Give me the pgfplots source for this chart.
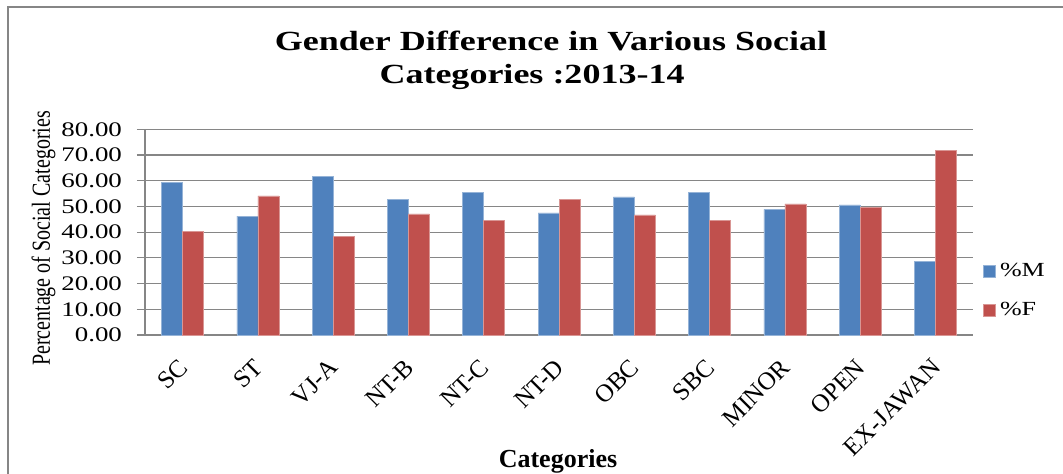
\documentclass[border=0pt]{standalone}
\usepackage{fontspec}
\setmainfont{Liberation Serif}
\usepackage{graphicx}
\usepackage{pgfplots}
\pgfplotsset{compat=1.18}
\definecolor{cM}{HTML}{4F81BD}
\definecolor{cF}{HTML}{C0504D}
\definecolor{gridc}{HTML}{868686}
\newcommand\sx[1]{\scalebox{1.3}[1]{#1}}
\begin{document}
\begin{tikzpicture}
\useasboundingbox (0,0) rectangle (531.5pt,-236.5pt);
\draw[color=gridc, line width=1pt] (4pt,-250pt) -- (4pt,-3.5pt) -- (540pt,-3.5pt);
\node[anchor=base, inner sep=0pt, font=\fontsize{13.85}{16}\selectfont\bfseries] at (275.5pt,-25pt) {\sx{Gender Difference in Various Social}};
\node[anchor=base, inner sep=0pt, font=\fontsize{13.85}{16}\selectfont\bfseries] at (266pt,-41.5pt) {\sx{Categories :2013-14}};
\node[rotate=90, inner sep=0pt, font=\fontsize{10}{12}\selectfont] at (21.75pt,-119.25pt) {\scalebox{1}[1.3]{Percentage of Social Categories}};
\node[anchor=base, inner sep=0pt, font=\fontsize{13}{14}\selectfont\bfseries] at (279pt,-233.5pt) {Categories};
\begin{axis}[at={(72.5pt,-64.65pt)}, anchor=north west, scale only axis,
  width=414pt, height=102.85pt,
  ybar=0pt, bar width=10.5pt,
  xmin=-0.5, xmax=10.5, ymin=0, ymax=80,
  axis x line*=bottom, axis y line*=left,
  axis line style={gridc, line width=0.6pt, -},
  xtick={0,...,10},
  xticklabels={SC,ST,VJ-A,NT-B,NT-C,NT-D,OBC,SBC,MINOR,OPEN,EX-JAWAN},
  x tick style={draw=none},
  xticklabel style={rotate=45, anchor=east, inner sep=0pt, font=\fontsize{12.5}{14}\selectfont, xshift=-6.8pt, yshift=-7.5pt},
  ytick={0,10,...,80},
  ymajorgrids, grid style={gridc, line width=0.6pt},
  y tick style={gridc, line width=0.6pt}, tick align=outside, major tick length=4pt,
  /pgf/number format/assume math mode=true,
  yticklabel={\sx{\pgfmathprintnumber[fixed,fixed zerofill,precision=2]{\tick}}},
  yticklabel style={font=\fontsize{10.35}{12}\selectfont, xshift=-4pt},
  legend style={at={(1,0.216)}, anchor=west, xshift=5pt, draw=none, fill=none,
    inner sep=0pt, row sep=7.5pt, font=\fontsize{10}{12}\selectfont,
    /tikz/every even column/.append style={column sep=0pt}},
  legend cell align=left,
  legend image code/.code={\fill[#1] (0pt,-3pt) rectangle (6pt,3pt);},
]
\addplot[fill=cM, draw=cM!60!white, line width=0.3pt] coordinates {
(0,59.4) (1,46.2) (2,61.6) (3,52.8) (4,55.5) (5,47.5) (6,53.7) (7,55.5) (8,48.9) (9,50.6) (10,28.7)};
\addlegendentry{\sx{\%M}}
\addplot[fill=cF, draw=cF!60!white, line width=0.3pt] coordinates {
(0,40.4) (1,54.1) (2,38.4) (3,47.1) (4,44.5) (5,52.8) (6,46.7) (7,44.5) (8,51.0) (9,49.7) (10,71.7)};
\addlegendentry{\sx{\%F}}
\end{axis}
\end{tikzpicture}
\end{document}
